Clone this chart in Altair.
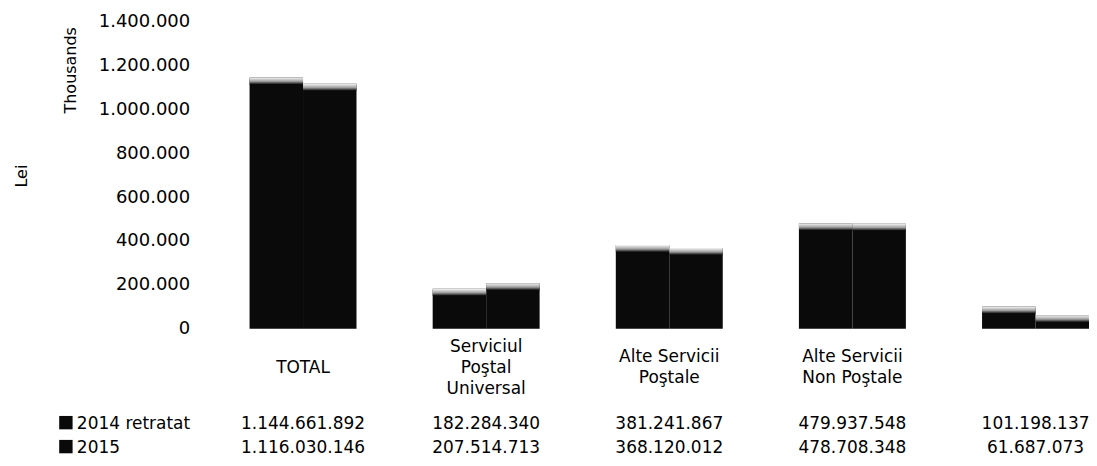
import altair as alt
import pandas as pd

# ---- data ----
categories = ["TOTAL", "Serviciul\nPoştal\nUniversal", "Alte Servicii\nPoştale",
              "Alte Servicii\nNon Poştale", " "]
series = ["2014 retratat", "2015"]
values_2014 = [1144661892, 182284340, 381241867, 479937548, 101198137]  # lei
values_2015 = [1116030146, 207514713, 368120012, 478708348, 61687073]   # lei
y_ticks = [0, 200000, 400000, 600000, 800000, 1000000, 1200000, 1400000]  # thousands

FONT = "DejaVu Sans"
INK = "#0a0a0a"
FS = 18
FT = 17

rows = []
for s, vals in zip(series, [values_2014, values_2015]):
    for c, v in zip(categories, vals):
        rows.append({"cat": c, "series": s, "lei": v,
                     "txt": f"{v:,}".replace(",", ".")})
df = pd.DataFrame(rows)

xscale = alt.Scale(domain=categories, paddingInner=0.416, paddingOuter=0)
X = alt.X("cat:N", sort=categories, scale=xscale, axis=None)
XO = alt.XOffset("series:N", sort=series,
                 scale=alt.Scale(domain=series, paddingInner=0, paddingOuter=0))

base = alt.Chart(df).transform_calculate(k="datum.lei / 1000")

bars = base.mark_bar(color=INK).encode(
    x=X,
    xOffset=XO,
    y=alt.Y("k:Q", scale=alt.Scale(domain=[0, 1400000], nice=False, zero=True),
            axis=alt.Axis(values=y_ticks, title=None, grid=False, domain=False,
                          ticks=False, labelPadding=60, labelFontSize=FS,
                          labelFont=FONT, labelColor="#000",
                          labelExpr="replace(format(datum.value, ','), regexp(',', 'g'), '.')")),
)

shine = base.mark_bar(
    y2Offset=7,
    color=alt.Gradient(gradient="linear",
                       stops=[alt.GradientStop(color="#f5f5f5", offset=0),
                              alt.GradientStop(color="#a0a0a0", offset=0.55),
                              alt.GradientStop(color=INK, offset=1)],
                       x1=0, x2=0, y1=0, y2=1),
).encode(x=X, xOffset=XO, y="k:Q", y2="k:Q")

layers = [bars, shine]

# category labels, vertically centred on one line
cat_df = pd.DataFrame({"cat": categories})
LH = 21
for n in [1, 2, 3]:
    t = alt.Chart(cat_df).transform_calculate(
        lines="split(datum.cat, '\\n')"
    ).transform_filter(f"length(datum.lines) == {n}").mark_text(
        font=FONT, fontSize=FT, lineHeight=LH, baseline="middle",
        align="center", color="#000"
    ).encode(x=X, y=alt.value(347 - (n - 1) * LH / 2), text="lines:N")
    layers.append(t)

row_y = [408, 432]  # text baselines
for s, yy in zip(series, row_y):
    vals = alt.Chart(df).transform_filter(alt.datum.series == s).mark_text(
        font=FONT, fontSize=FT, baseline="alphabetic", align="center", color="#000"
    ).encode(x=X, y=alt.value(yy), text="txt:N")
    lab_df = pd.DataFrame({"series": [s]})
    lab = alt.Chart(lab_df).mark_text(
        font=FONT, fontSize=FT, baseline="alphabetic", align="left", color="#000"
    ).encode(x=alt.value(-173), y=alt.value(yy), text="series:N")
    sq = alt.Chart(lab_df).mark_square(size=180, color=INK, opacity=1).encode(
        x=alt.value(-184), y=alt.value(yy - 6))
    layers += [vals, lab, sq]

titles_df = pd.DataFrame({"t": ["Thousands"]})
thousands = alt.Chart(titles_df).mark_text(
    font=FONT, fontSize=16, angle=270, baseline="middle", align="center", color="#000"
).encode(x=alt.value(-179), y=alt.value(49), text="t:N")
lei_df = pd.DataFrame({"t": ["Lei"]})
lei = alt.Chart(lei_df).mark_text(
    font=FONT, fontSize=16, angle=270, baseline="middle", align="center", color="#000"
).encode(x=alt.value(-228), y=alt.value(155), text="t:N")
layers += [thousands, lei]

chart = alt.layer(*layers).properties(
    width=841, height=308,
    autosize=alt.AutoSizeParams(type="none"),
    padding={"left": 242, "top": 13, "right": 0, "bottom": 129},
    background="white",
).configure_view(stroke=None)

chart.save("out.html", embed_options={"renderer": "svg", "actions": False})
